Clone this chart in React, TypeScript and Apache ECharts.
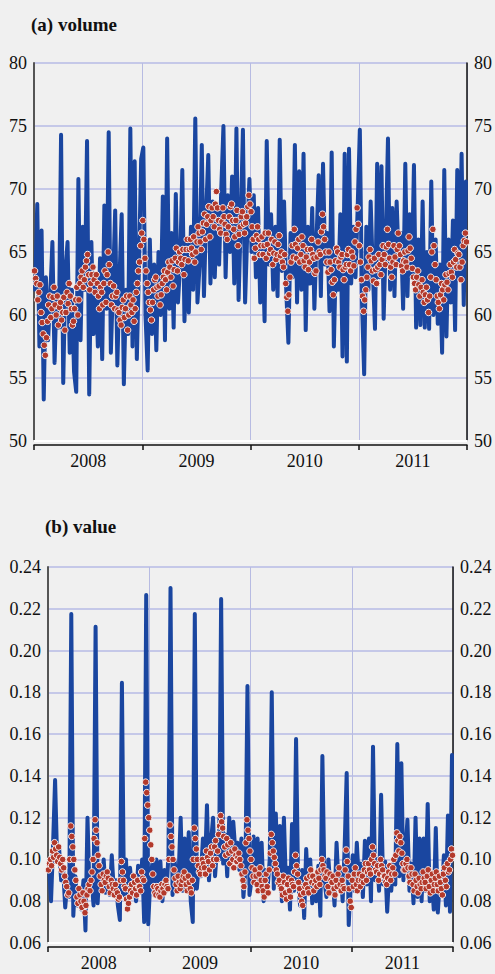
import React, { useEffect, useRef } from 'react';
import * as echarts from 'echarts';

const YEARS = ['2008', '2009', '2010', '2011'];
const FIRST_YEAR = 2008;
const LINE_POINTS_PER_YEAR = 50;
const DOT_POINTS_PER_YEAR = 100;

// (a) volume — blue line
const VOLUME_LINE = [
  62, 68.8, 57.5, 66.7, 53.3, 63, 58, 61.5, 65.8, 56.2,
  62, 59, 74.3, 54.6, 63.5, 65.8, 57, 62, 55.5, 53.9,
  70.8, 58, 67, 62, 73.8, 53.7, 65.8, 58.5, 63, 57.5,
  64.5, 56.5, 68.7, 60.5, 74.5, 57, 62.5, 68.3, 56, 63,
  68, 54.5, 62, 58.5, 74.8, 57.5, 72.2, 56.5, 64, 72.4,
  73.3, 60, 55.6, 66, 58.5, 64, 57.2, 65, 60, 69.4,
  58, 74, 60.5, 66.5, 59, 69.6, 61, 64, 71.5, 59.5,
  66, 60.2, 67, 62, 75.6, 61, 64, 73.5, 61.5, 68,
  72.7, 62.5, 69, 63, 68.5, 64, 70, 75, 63, 69.5,
  65, 71, 62.5, 74.8, 61.2, 67.5, 74.7, 61, 66.5, 70.8,
  65, 69.5, 63, 68.5, 61, 66, 59.5, 73.8, 64, 68,
  62, 67, 61.5, 73.9, 63.5, 69, 62, 57.8, 66.5, 63,
  73.5, 61, 71.4, 62, 72.8, 58.8, 67, 62.5, 68.5, 60.5,
  66, 71.1, 61.5, 72, 64, 66.5, 60.3, 72.9, 57.5, 65,
  62, 68, 56.7, 72.8, 56.3, 73.2, 62.5, 67, 63, 68.5,
  74.7, 61, 55.3, 67, 62, 69, 63.5, 58.9, 72, 63,
  71.8, 59.7, 66, 74, 62, 68.5, 61.5, 69, 64, 66.5,
  60.5, 72, 61.5, 68, 63, 71.9, 59, 66, 59.2, 69,
  59, 65, 58.9, 70.6, 60, 66, 59.3, 64, 57, 71.5,
  58.3, 66, 61, 67.5, 58.8, 71.5, 63, 72.8, 60.8, 70.6,
];

// (a) volume — red dots
const VOLUME_DOTS = [
  63.5, 62.9, 62.5, 61.2, 61.8, 62.4, 60.2, 59.4, 58.5, 57.6,
  56.8, 58.2, 59.5, 60.8, 61.5, 59.8, 60.5, 61.4, 62.2, 60.8,
  60, 61.5, 59.2, 60.6, 61, 59.6, 60.2, 61.4, 58.8, 60.2,
  61.8, 60.9, 62.5, 61.5, 60.5, 59.2, 59.5, 60.5, 61.2, 62.2,
  60, 61.2, 62.5, 63, 63.5, 62.2, 62.8, 63.8, 64.3, 64.8,
  63.2, 62, 62.5, 63.2, 63.8, 62.8, 61.8, 63.2, 62.5, 61.5,
  60.5, 62.2, 61.8, 60.8, 62.5, 63.5, 61, 63.2, 65, 64,
  62.5, 60.8, 61.5, 62.3, 60.5, 61.5, 61.8, 60.4, 60.2, 59.6,
  59.2, 60.6, 61.2, 59.8, 60.5, 61.5, 58.8, 60, 61.5, 60.8,
  60.2, 61.2, 59.5, 60.5, 61.8, 62.5, 63.5, 64.2, 65.5, 66.5,
  67.5, 66, 64.5, 63.5, 62.5, 61.8, 61, 60.4, 59.6, 61,
  62, 62.8, 63, 62.2, 61.5, 62.3, 60.8, 61.6, 62.5, 63,
  63.5, 62.8, 62, 63.4, 64.2, 63.8, 63, 64.3, 62.3, 63.6,
  64.5, 65.3, 63.5, 64.2, 65, 64.5, 64, 65.2, 63.2, 64.4,
  65.2, 66, 64.3, 65.2, 66, 65.3, 64.8, 66.2, 64.2, 65,
  65.8, 67, 66.5, 65.8, 65.2, 66.6, 67.3, 68, 66, 67.2,
  67.8, 68.6, 66.2, 67.5, 68.5, 67.8, 67, 68.8, 69.8, 68.5,
  67.5, 66.8, 66.5, 67.4, 68.5, 67.8, 67.2, 66.4, 66, 67,
  67.8, 68.6, 68.8, 67.5, 66.8, 66.2, 67.5, 68.3, 65.5, 66.4,
  67, 67.8, 68.2, 67.2, 66.5, 67.3, 67.8, 68.6, 69.5, 68.8,
  68.2, 67, 66, 64.5, 65.3, 66.3, 67, 66, 64.8, 65.5,
  66.2, 64.8, 65.5, 66.5, 64.5, 65.6, 66.5, 64.9, 65.2, 66,
  64, 64.9, 65.8, 64.4, 64.8, 65.6, 66.3, 64.7, 65, 64.2,
  63.8, 64.8, 62.5, 61.4, 60.3, 61.6, 63, 64.2, 65.5, 64.6,
  66.8, 65.6, 64.5, 65.3, 66, 64.2, 64.8, 66.2, 65.5, 64.3,
  63.8, 64.6, 65.2, 63.6, 64.2, 65.2, 66, 64.8, 64.5, 63.3,
  63.5, 64.6, 65.8, 65, 64.8, 66.6, 68, 67, 66, 65,
  64.2, 63.4, 65, 64.2, 63.6, 62.6, 61.6, 62.8, 64.3, 65.3,
  65, 64.2, 63.8, 64.6, 64.8, 63.6, 62.8, 63.8, 64, 64.8,
  65.2, 64, 63.5, 65, 64.6, 63.9, 65.8, 66.8, 68.5, 67.2,
  65.5, 64.2, 62.8, 61.5, 60.3, 61.2, 62, 63, 63.8, 64.6,
  65.2, 64.3, 63.5, 62.7, 64.5, 63.6, 62.5, 63.8, 64.8, 64,
  63.2, 64.4, 65.5, 64.8, 64, 65.4, 66.8, 65.6, 64.5, 63.8,
  63, 64.2, 65.5, 64.6, 64, 65.2, 66.5, 65.5, 64.8, 63.9,
  63.5, 64.3, 65, 64.2, 63.8, 65.1, 66.2, 65.3, 64.5, 63.7,
  63, 62.5, 62, 63, 63.5, 62.4, 61.5, 62.2, 62.8, 61.8,
  61, 61.6, 62.2, 61.2, 60.2, 61.5, 63, 65, 66.8, 65.5,
  64, 62.8, 61.5, 61, 60.5, 61.6, 62.5, 62, 61.2, 62.4,
  63.2, 62.6, 62, 63.3, 64, 63.4, 63, 64.2, 65.2, 64.4,
  63.8, 64.9, 64.8, 63.8, 62.8, 64.2, 65.5, 65.9, 66.5, 65.8,
];

// (b) value — blue line
const VALUE_LINE = [
  0.097, 0.08, 0.107, 0.138, 0.1, 0.105, 0.09, 0.095, 0.077, 0.089,
  0.082, 0.2175, 0.073, 0.092, 0.078, 0.083, 0.076, 0.09, 0.066, 0.12,
  0.085, 0.09, 0.078, 0.2114, 0.079, 0.096, 0.088, 0.1, 0.084, 0.088,
  0.083, 0.102, 0.085, 0.09, 0.078, 0.071, 0.1846, 0.083, 0.1, 0.079,
  0.096, 0.085, 0.09, 0.08, 0.097, 0.084, 0.1, 0.07, 0.2266, 0.069,
  0.09, 0.098, 0.083, 0.1, 0.088, 0.099, 0.08, 0.095, 0.085, 0.102,
  0.23, 0.083, 0.1, 0.088, 0.092, 0.12, 0.085, 0.11, 0.09, 0.113,
  0.08, 0.07, 0.2175, 0.086, 0.098, 0.092, 0.11, 0.095, 0.126, 0.09,
  0.108, 0.12, 0.092, 0.106, 0.1, 0.2247, 0.098, 0.112, 0.092, 0.12,
  0.1, 0.118, 0.104, 0.108, 0.095, 0.11, 0.082, 0.095, 0.183, 0.083,
  0.09, 0.111, 0.088, 0.11, 0.085, 0.108, 0.08, 0.095, 0.087, 0.1,
  0.18, 0.086, 0.122, 0.09, 0.116, 0.08, 0.12, 0.088, 0.096, 0.076,
  0.117, 0.085, 0.1577, 0.09, 0.078, 0.095, 0.072, 0.105, 0.085, 0.1,
  0.079, 0.092, 0.08, 0.097, 0.073, 0.1495, 0.09, 0.082, 0.1, 0.085,
  0.092, 0.078, 0.108, 0.088, 0.095, 0.08, 0.106, 0.1414, 0.0686, 0.09,
  0.102, 0.085, 0.108, 0.09, 0.098, 0.082, 0.109, 0.088, 0.11, 0.08,
  0.154, 0.09, 0.1, 0.085, 0.131, 0.088, 0.099, 0.075, 0.094, 0.085,
  0.098, 0.088, 0.1553, 0.092, 0.146, 0.09, 0.104, 0.119, 0.085, 0.098,
  0.079, 0.12, 0.082, 0.11, 0.08, 0.11, 0.085, 0.1266, 0.08, 0.092,
  0.076, 0.115, 0.0746, 0.09, 0.083, 0.102, 0.078, 0.121, 0.075, 0.15,
];

// (b) value — red dots
const VALUE_DOTS = [
  0.095, 0.098, 0.1, 0.097, 0.104, 0.101, 0.108, 0.105, 0.102, 0.099,
  0.106, 0.101, 0.098, 0.095, 0.1, 0.096, 0.092, 0.089, 0.087, 0.083,
  0.084, 0.1, 0.116, 0.111, 0.106, 0.1, 0.095, 0.09, 0.082, 0.079,
  0.086, 0.083, 0.08, 0.077, 0.084, 0.08, 0.0745, 0.078, 0.083, 0.086,
  0.088, 0.085, 0.09, 0.094, 0.1, 0.11, 0.119, 0.114, 0.108, 0.102,
  0.097, 0.092, 0.088, 0.085, 0.093, 0.09, 0.089, 0.092, 0.094, 0.091,
  0.087, 0.084, 0.09, 0.088, 0.086, 0.083, 0.088, 0.085, 0.084, 0.081,
  0.082, 0.09, 0.099, 0.094, 0.09, 0.087, 0.086, 0.081, 0.0763, 0.079,
  0.082, 0.085, 0.088, 0.084, 0.092, 0.089, 0.086, 0.083, 0.09, 0.087,
  0.087, 0.085, 0.094, 0.091, 0.09, 0.11, 0.137, 0.132, 0.126, 0.12,
  0.114, 0.107, 0.1, 0.093, 0.087, 0.084, 0.083, 0.087, 0.086, 0.083,
  0.082, 0.085, 0.088, 0.086, 0.084, 0.088, 0.09, 0.087, 0.086, 0.1,
  0.1165, 0.111, 0.106, 0.1, 0.095, 0.091, 0.088, 0.085, 0.092, 0.089,
  0.086, 0.088, 0.09, 0.092, 0.094, 0.091, 0.088, 0.085, 0.092, 0.089,
  0.086, 0.084, 0.09, 0.1, 0.115, 0.11, 0.105, 0.1, 0.097, 0.094,
  0.093, 0.096, 0.1, 0.098, 0.096, 0.093, 0.104, 0.101, 0.099, 0.095,
  0.103, 0.106, 0.097, 0.1, 0.106, 0.109, 0.1, 0.104, 0.112, 0.116,
  0.121, 0.118, 0.115, 0.111, 0.106, 0.102, 0.11, 0.107, 0.103, 0.098,
  0.108, 0.104, 0.1, 0.096, 0.105, 0.102, 0.099, 0.101, 0.103, 0.1,
  0.097, 0.093, 0.09, 0.087, 0.094, 0.108, 0.119, 0.114, 0.11, 0.104,
  0.1, 0.096, 0.092, 0.089, 0.095, 0.092, 0.088, 0.085, 0.093, 0.096,
  0.09, 0.087, 0.085, 0.082, 0.09, 0.093, 0.087, 0.084, 0.095, 0.103,
  0.112, 0.108, 0.104, 0.101, 0.098, 0.095, 0.093, 0.089, 0.09, 0.087,
  0.086, 0.083, 0.092, 0.089, 0.084, 0.081, 0.088, 0.091, 0.085, 0.082,
  0.09, 0.088, 0.087, 0.094, 0.102, 0.097, 0.093, 0.089, 0.086, 0.083,
  0.08, 0.078, 0.084, 0.087, 0.088, 0.091, 0.086, 0.084, 0.092, 0.095,
  0.089, 0.092, 0.085, 0.088, 0.09, 0.087, 0.094, 0.091, 0.088, 0.095,
  0.1, 0.097, 0.095, 0.092, 0.091, 0.094, 0.087, 0.084, 0.093, 0.09,
  0.089, 0.092, 0.086, 0.083, 0.09, 0.087, 0.093, 0.096, 0.088, 0.085,
  0.09, 0.087, 0.086, 0.095, 0.1045, 0.099, 0.092, 0.086, 0.08, 0.077,
  0.09, 0.087, 0.093, 0.096, 0.088, 0.085, 0.09, 0.093, 0.087, 0.09,
  0.092, 0.089, 0.095, 0.098, 0.09, 0.094, 0.098, 0.095, 0.093, 0.1,
  0.106, 0.102, 0.098, 0.095, 0.094, 0.097, 0.09, 0.093, 0.1, 0.097,
  0.095, 0.092, 0.092, 0.089, 0.088, 0.091, 0.094, 0.097, 0.09, 0.093,
  0.096, 0.1, 0.093, 0.102, 0.1127, 0.109, 0.104, 0.111, 0.108, 0.103,
  0.098, 0.095, 0.095, 0.098, 0.1, 0.096, 0.092, 0.089, 0.096, 0.093,
  0.088, 0.085, 0.093, 0.09, 0.087, 0.084, 0.091, 0.088, 0.086, 0.089,
  0.094, 0.091, 0.089, 0.086, 0.092, 0.095, 0.087, 0.084, 0.09, 0.093,
  0.085, 0.088, 0.091, 0.094, 0.088, 0.085, 0.092, 0.089, 0.086, 0.083,
  0.093, 0.096, 0.09, 0.087, 0.098, 0.094, 0.095, 0.1, 0.105, 0.102,
];

const VOLUME_TICKS = { min: 50, max: 80, interval: 5 };
const VALUE_TICKS = { min: 0.06, max: 0.24, interval: 0.02 };

const FONT = 'Liberation Serif';
const BG = '#f0f0f0';
const BLUE = '#1a46a0';
const RED = '#b3392b';

function toPairs(values: number[], perYear: number) {
  return values.map((v, i) => [FIRST_YEAR + (i + 0.5) / perYear, v]);
}

function timeAxes(gridIndex: number) {
  return [
    {
      gridIndex,
      type: 'value',
      min: FIRST_YEAR,
      max: FIRST_YEAR + YEARS.length,
      interval: 1,
      position: 'bottom',
      axisLine: { show: true, onZero: false, lineStyle: { color: '#ffffff', width: 2 } },
      axisTick: { show: false },
      axisLabel: { show: false },
      splitLine: { show: true, lineStyle: { color: '#b7bbe2', width: 1 } },
    },
    {
      gridIndex,
      type: 'category',
      data: YEARS,
      position: 'bottom',
      offset: 4,
      boundaryGap: true,
      axisLine: { show: true, onZero: false, lineStyle: { color: '#111', width: 1.5 } },
      axisTick: { show: true, length: 5, lineStyle: { color: '#111', width: 1.5 } },
      axisLabel: { color: '#111', fontSize: 18, fontFamily: FONT, margin: 7 },
      splitLine: { show: false },
    },
  ];
}

function valueAxes(gridIndex: number, ticks: { min: number; max: number; interval: number }, digits: number) {
  const label = {
    color: '#111',
    fontSize: 18,
    fontFamily: FONT,
    margin: 7,
    formatter: (v: number) => v.toFixed(digits),
  };
  return [
    {
      gridIndex,
      type: 'value',
      position: 'left',
      ...ticks,
      axisLine: { show: true, lineStyle: { color: '#555', width: 2 } },
      axisTick: { show: false },
      axisLabel: label,
      splitLine: { show: true, lineStyle: { color: '#c5c8e8', width: 2 } },
    },
    {
      gridIndex,
      type: 'value',
      position: 'right',
      ...ticks,
      axisLine: { show: true, lineStyle: { color: '#111', width: 1.5 } },
      axisTick: { show: false },
      axisLabel: label,
      splitLine: { show: false },
    },
  ];
}

function seriesPair(axisIndex: number, yAxisIndex: number, line: number[], dots: number[]) {
  return [
    {
      type: 'line',
      xAxisIndex: axisIndex,
      yAxisIndex,
      data: toPairs(line, LINE_POINTS_PER_YEAR),
      showSymbol: false,
      lineStyle: { color: BLUE, width: 4, cap: 'round', join: 'round' },
      z: 2,
    },
    {
      type: 'scatter',
      xAxisIndex: axisIndex,
      yAxisIndex,
      data: toPairs(dots, DOT_POINTS_PER_YEAR),
      symbolSize: 6.5,
      itemStyle: { color: RED, borderColor: '#f6ecec', borderWidth: 1, opacity: 1 },
      z: 3,
    },
  ];
}

export default function App() {
  const ref = useRef<HTMLDivElement>(null);
  useEffect(() => {
    if (!ref.current) return;
    const chart = echarts.init(ref.current, undefined, { renderer: 'svg' });
    chart.setOption({
      animation: false,
      backgroundColor: BG,
      title: [
        {
          text: '(a) volume',
          left: 31,
          top: 15,
          padding: 0,
          textStyle: { fontSize: 19, fontWeight: 'bold', fontFamily: FONT, color: '#111' },
        },
        {
          text: '(b) value',
          left: 45,
          top: 517,
          padding: 0,
          textStyle: { fontSize: 19, fontWeight: 'bold', fontFamily: FONT, color: '#111' },
        },
      ],
      grid: [
        { left: 34, top: 63, width: 433, height: 378 },
        { left: 48, top: 567, width: 405, height: 376 },
      ],
      xAxis: [...timeAxes(0), ...timeAxes(1)],
      yAxis: [...valueAxes(0, VOLUME_TICKS, 0), ...valueAxes(1, VALUE_TICKS, 2)],
      series: [
        ...seriesPair(0, 0, VOLUME_LINE, VOLUME_DOTS),
        ...seriesPair(2, 2, VALUE_LINE, VALUE_DOTS),
      ],
    });
    return () => chart.dispose();
  }, []);
  return (
    <div
      ref={ref}
      style={{ position: 'absolute', left: 0, top: 0, width: 495, height: 974, background: BG }}
    />
  );
}
